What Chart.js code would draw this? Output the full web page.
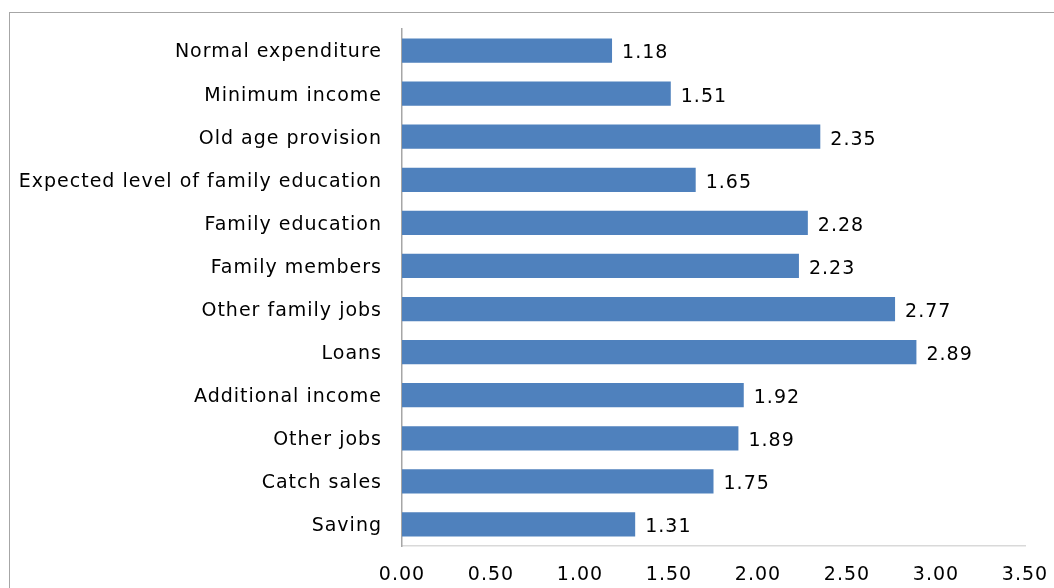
<!DOCTYPE html>
<html>
<head>
<meta charset="utf-8">
<script src="https://cdn.jsdelivr.net/npm/chart.js@4"></script>
<style>
  body { margin: 0; background: #fff; }
  #wrap { position: relative; width: 1054px; height: 588px; overflow: hidden; }
  #frame { position: absolute; left: 9px; top: 12px; width: 1200px; height: 700px; border: 1.5px solid #a6a6a6; box-sizing: border-box; }
  canvas { position: absolute; left: 0; top: 0; }
</style>
</head>
<body>
<div id="wrap">
  <div id="frame"></div>
  <canvas id="chart" width="1054" height="588"></canvas>
</div>
<script>
// categories, top to bottom
const categories = [
    'Normal expenditure',
    'Minimum income',
    'Old age provision',
    'Expected level of family education',
    'Family education',
    'Family members',
    'Other family jobs',
    'Loans',
    'Additional income',
    'Other jobs',
    'Catch sales',
    'Saving'
];
const scores = [1.18, 1.51, 2.35, 1.65, 2.28, 2.23, 2.77, 2.89, 1.92, 1.89, 1.75, 1.31];
const xTicks = [0, 0.5, 1, 1.5, 2, 2.5, 3, 3.5];

const FONT = 'DejaVu Sans';

// widen DejaVu a bit so it runs like Verdana (canvas resize resets it, so set it on every pass)
const spacing = {
    id: 'spacing',
    beforeUpdate(chart) { chart.ctx.letterSpacing = '1px'; },
    beforeDraw(chart) { chart.ctx.letterSpacing = '1px'; }
};

// value labels at the end of each bar
const valueLabels = {
    id: 'valueLabels',
    afterDatasetsDraw(chart) {
        const ctx = chart.ctx;
        const meta = chart.getDatasetMeta(0);
        ctx.save();
        ctx.font = '19px "' + FONT + '"';
        ctx.fillStyle = '#000';
        ctx.textAlign = 'left';
        ctx.textBaseline = 'middle';
        meta.data.forEach((bar, i) => {
            ctx.fillText(scores[i].toFixed(2), bar.x + 10, bar.y + 3);
        });
        ctx.restore();
    }
};

function noPad(scale) {
    scale.paddingLeft = 0;
    scale.paddingRight = 0;
    scale.paddingTop = 0;
    scale.paddingBottom = 0;
}

new Chart(document.getElementById('chart'), {
    type: 'bar',
    data: {
        labels: categories,
        datasets: [{
            data: scores,
            backgroundColor: '#4f81bd',
            barPercentage: 0.564,
            categoryPercentage: 1
        }]
    },
    options: {
        indexAxis: 'y',
        responsive: false,
        animation: false,
        layout: { padding: { top: 29, right: 29, bottom: 0, left: 0 } },
        plugins: {
            legend: { display: false },
            tooltip: { enabled: false }
        },
        scales: {
            x: {
                min: 0,
                max: 3.5,
                afterBuildTicks: scale => { scale.ticks = xTicks.map(v => ({ value: v })); },
                afterFit: scale => { scale.height = 42; noPad(scale); },
                grid: { display: false, drawTicks: false },
                border: { color: '#d9d9d9', width: 1.5 },
                ticks: {
                    padding: 18,
                    color: '#000',
                    font: { family: FONT, size: 19 },
                    callback: v => Number(v).toFixed(2)
                }
            },
            y: {
                afterFit: scale => { scale.width = 402; noPad(scale); },
                grid: { display: false, drawTicks: false },
                border: { color: '#a6a6a6', width: 1.5 },
                ticks: {
                    padding: 20,
                    labelOffset: 2,
                    color: '#000',
                    font: { family: FONT, size: 19 }
                }
            }
        }
    },
    plugins: [spacing, valueLabels]
});
</script>
</body>
</html>
